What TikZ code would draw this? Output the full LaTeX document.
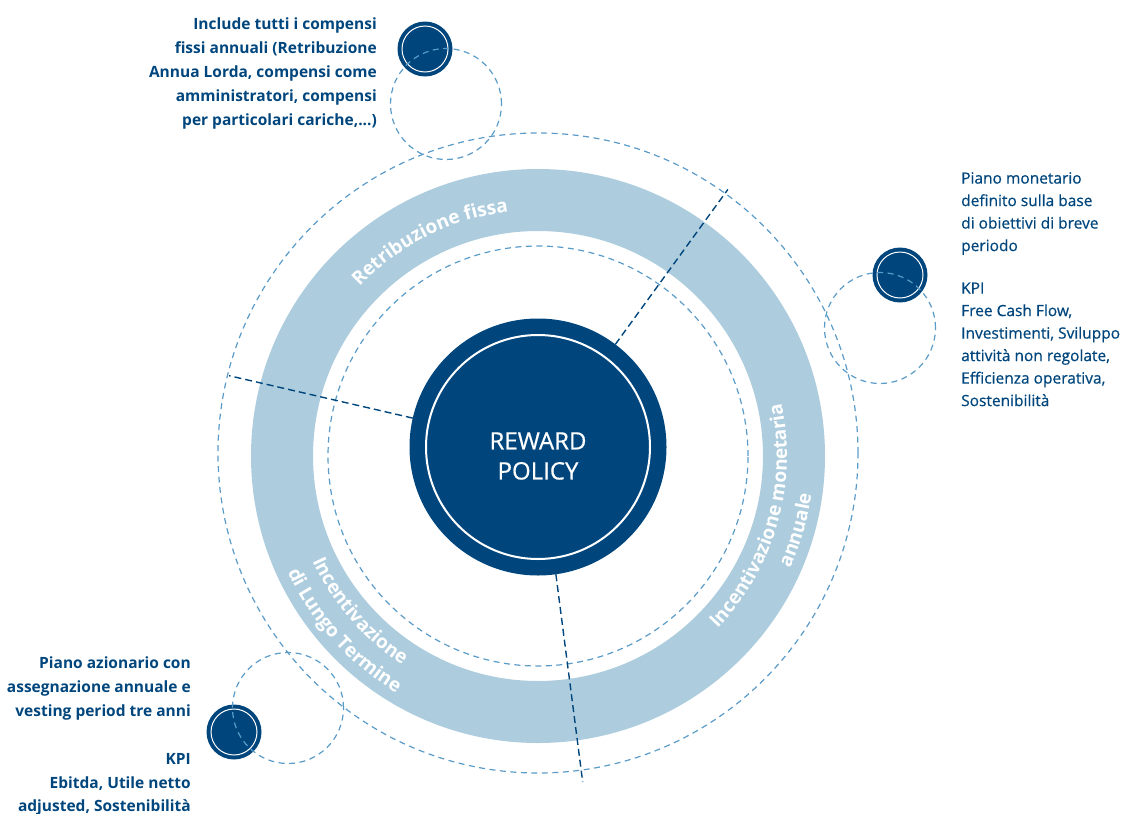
\documentclass[tikz,border=0pt]{standalone}
\usepackage{fontspec}
\setmainfont{Open Sans}
\newfontfamily\mediumfont{Open Sans}[FakeBold=0.6]
\usetikzlibrary{calc, decorations.text}
\definecolor{policyblue}{RGB}{0,70,125}
\definecolor{ringblue}{RGB}{173,205,222}
\definecolor{orbitblue}{RGB}{90,155,200}
\newcommand{\ringfont}{\fontsize{19}{20}\selectfont\bfseries}
\tikzset{
orbit/.style={orbitblue, line width=1.2pt, dash pattern=on 6pt off 4.5pt},
cutline/.style={policyblue, line width=1.4pt, dash pattern=on 7pt off 4pt},
hub/.style={circle, fill=policyblue, inner sep=0pt, outer sep=0pt, minimum size=257pt, path picture={\draw[white, line width=2pt] (path picture bounding box.center) circle (112pt);}},
marker/.style={circle, fill=policyblue, inner sep=0pt, outer sep=0pt, minimum size=55pt, path picture={\draw[white, line width=1pt] (path picture bounding box.center) circle (23pt);}},
note/.style={inner sep=0pt, text=policyblue, font=\fontsize{15.5}{24}\selectfont\bfseries},
ringtext/.style={decorate, decoration={text along path, text align=center, text color=white, text={|\ringfont|#1}}}
}
\begin{document}
\begin{tikzpicture}[x=1pt, y=1pt]
\useasboundingbox (0,0) rectangle (1130,-814);
\coordinate (ring) at (538,-456);
\fill[ringblue, even odd rule] (ring) circle (287) (ring) circle (225);
\draw[orbit] (ring) circle (210);
\draw[orbit] (538,-453) circle (320);
\path[ringtext=Retribuzione fissa] ($(ring)+(161.7:246)$) arc[start angle=161.7, end angle=71.7, radius=246];
\path[ringtext=Incentivazione monetaria] ($(ring)+(-60.8:249)$) arc[start angle=-60.8, end angle=29.2, radius=249];
\path[ringtext=annuale] ($(ring)+(-61:276)$) arc[start angle=-61, end angle=29, radius=276];
\path[ringtext=Incentivazione] ($(ring)+(176:249)$) arc[start angle=176, end angle=266, radius=249];
\path[ringtext=di Lungo Termine] ($(ring)+(177:276)$) arc[start angle=177, end angle=267, radius=276];
\node[hub] (policy) at (538,-447) {};
\coordinate (cut1) at ($(policy.center)+(53.6:320)$);
\coordinate (cut2) at ($(policy.center)+(167:317)$);
\coordinate (cut3) at ($(policy.center)+(-82.4:338)$);
\draw[cutline] (policy.53.6) -- (cut1);
\draw[cutline] (policy.167) -- (cut2);
\draw[cutline] (policy.-82.4) -- (cut3);
\node[font=\mediumfont\fontsize{24}{30}\selectfont, text=white, align=center] (title) at (538,-456) {REWARD\\POLICY};
\node[marker] (dot1) at (425,-49) {};
\node[marker] (dot2) at (900,-275) {};
\node[marker] (dot3) at (234,-732) {};
\draw[orbit] (446,-104) circle (55.5);
\draw[orbit] (880,-328) circle (55.5);
\draw[orbit] (288,-708) circle (55.5);
\node[note, anchor=north east, align=right] (fixnote) at (377,-18) {Include tutti i compensi\\fissi annuali (Retribuzione\\Annua Lorda, compensi come\\amministratori, compensi\\per particolari cariche,...)};
\node[note, anchor=north west, align=left, font=\mediumfont\fontsize{15.5}{22.5}\selectfont] (shortnote) at (961,-172) {Piano monetario\\definito sulla base\\di obiettivi di breve\\periodo\\[20pt]KPI\\Free Cash Flow,\\Investimenti, Sviluppo\\attività non regolate,\\Efficienza operativa,\\Sostenibilità};
\node[note, anchor=north east, align=right, font=\fontsize{15.5}{23.8}\selectfont\bfseries] (longnote) at (191,-657) {Piano azionario con\\assegnazione annuale e\\vesting period tre anni\\[24pt]KPI\\Ebitda, Utile netto\\adjusted, Sostenibilità};
\end{tikzpicture}
\end{document}
